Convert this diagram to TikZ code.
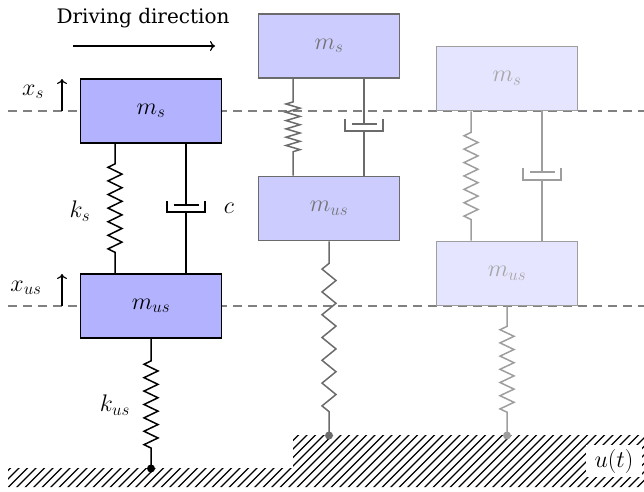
\RequirePackage{fix-cm}
\documentclass[tikz,border=0pt]{standalone}
\usepackage{fontspec}
\newfontfamily\dejaserif{DejaVu Serif}
\usetikzlibrary{decorations.pathmorphing,calc,arrows.meta}
\DeclareMathSizes{24}{24}{17}{13}
\newcommand{\fs}[1]{\fontsize{#1}{#1}\selectfont}
\tikzset{x=1pt,y=-1pt,
 mass/.style={draw=massline,fill=massfill,line width=1.8pt,minimum width=141pt,minimum height=64pt,inner sep=0pt,text=masstext,font=\fs{24}},
 link/.style={draw=massline,line width=1.7pt},
 spring/.style n args={3}{draw=massline,line width=1.5pt,decorate,decoration={zigzag,mirror,segment length=#1,amplitude=7pt,pre length=#2,post length=#3}},
 cup/.style={draw=massline,line width=1.4pt},
 dot/.style={circle,fill=massline,inner sep=0pt,minimum size=8pt},
 lab/.style={font=\fs{24},inner sep=0pt},
 refline/.style={draw=black!50,line width=1.1pt,dash pattern=on 9pt off 6pt},
 arr/.style={line width=1.2pt,-{To[length=5pt,width=10pt]}},
 sysA/.code={\colorlet{massline}{black}\colorlet{massfill}{blue!30}\colorlet{masstext}{black}},
 sysB/.code={\colorlet{massline}{black!58}\colorlet{massfill}{blue!20}\colorlet{masstext}{black!55}},
 sysC/.code={\colorlet{massline}{black!38}\colorlet{massfill}{blue!10}\colorlet{masstext}{black!35}},
}
\begin{document}
\begin{tikzpicture}
\useasboundingbox (0,0) rectangle (644,491);
% reference lines
\coordinate (la) at (8,111); \coordinate (lb) at (644,111);
\coordinate (lc) at (8,306); \coordinate (ld) at (644,306);
\draw[refline] (la) -- (lb);
\draw[refline] (lc) -- (ld);
% ground
\begin{scope}
\clip (8,468) -- (293,468) -- (293,435) -- (644,435) -- (644,487) -- (8,487) -- cycle;
\foreach \i in {0,...,85}{\draw[line width=1.1pt] ({-20+8.5*\i},490) -- ({-20+8.5*\i+60},430);}
\end{scope}
\node[fill=white,minimum width=56pt,minimum height=32pt,inner sep=0pt,font=\fs{24}] (u) at (614,461) {$u(t)$};
% masses and connectors
\foreach \i/\cx/\ya/\yb/\st/\sper/\spre/\spost/\lper/\lpre/\lpost/\bot/\py/\cta/\ctb in {
  A/151/111/306/sysA/13.6/20/20/13.4/22/20/468.5/205/201/212,
  B/329/46/208.5/sysB/8.3/23/20/22.8/22/22/435.5/124/119/131,
  C/507/78.5/273.5/sysC/13.4/21/21/13.2/20/22/435.5/172/168/180}{
 \begin{scope}[/tikz/\st]
  \node[mass] (ms\i) at (\cx,\ya) {$m_s$};
  \node[mass] (mu\i) at (\cx,\yb) {$m_{us}$};
  \node[dot] (g\i) at (\cx,\bot) {};
  % body spring
  \coordinate (sa\i) at ($(ms\i.south)+(-36,0)$);
  \coordinate (sb\i) at ($(mu\i.north)+(-36,0)$);
  \draw[spring={\sper pt}{\spre pt}{\spost pt}] (sa\i) -- (sb\i);
  % wheel spring
  \draw[spring={\lper pt}{\lpre pt}{\lpost pt}] (mu\i.south) -- (g\i.center);
  % damper
  \coordinate (da\i) at ($(ms\i.south)+(35,0)$);
  \coordinate (db\i) at ($(mu\i.north)+(35,0)$);
  \coordinate (dp\i) at (da\i|-0,\py);
  \coordinate (dc\i) at (da\i|-0,\ctb);
  \coordinate (dl\i) at ($(dc\i)+(-19,0)$);
  \coordinate (dr\i) at ($(dc\i)+(19,0)$);
  \coordinate (pl\i) at ($(dp\i)+(-12.5,0)$);
  \coordinate (pr\i) at ($(dp\i)+(12.5,0)$);
  \draw[link] (da\i) -- (dp\i);
  \draw[link] (dc\i) -- (db\i);
  \draw[cup] (pl\i) -- (pr\i);
  \draw[cup] (dl\i|-0,\cta) -- (dl\i) -- (dr\i) -- (dr\i|-0,\cta);
 \end{scope}
}
% driving direction
\node[font=\dejaserif\fs{20},inner sep=0pt] (dd) at (143,18) {Driving direction};
\coordinate (aa) at (73,46); \coordinate (ab) at (215,46);
\draw[arr] (aa) -- (ab);
% displacement arrows
\coordinate (xa) at (62,111); \coordinate (xb) at (62,79);
\draw[arr] (xa) -- (xb);
\coordinate (xc) at (62,306); \coordinate (xd) at (62,274);
\draw[arr] (xc) -- (xd);
% labels
\node[lab] (lxs) at (33,92) {$x_s$};
\node[lab] (lxu) at (26,288) {$x_{us}$};
\node[lab] (lks) at (80,211) {$k_s$};
\node[lab] (lc) at (229,208) {$c$};
\node[lab] (lku) at (115,405) {$k_{us}$};
\end{tikzpicture}
\end{document}
